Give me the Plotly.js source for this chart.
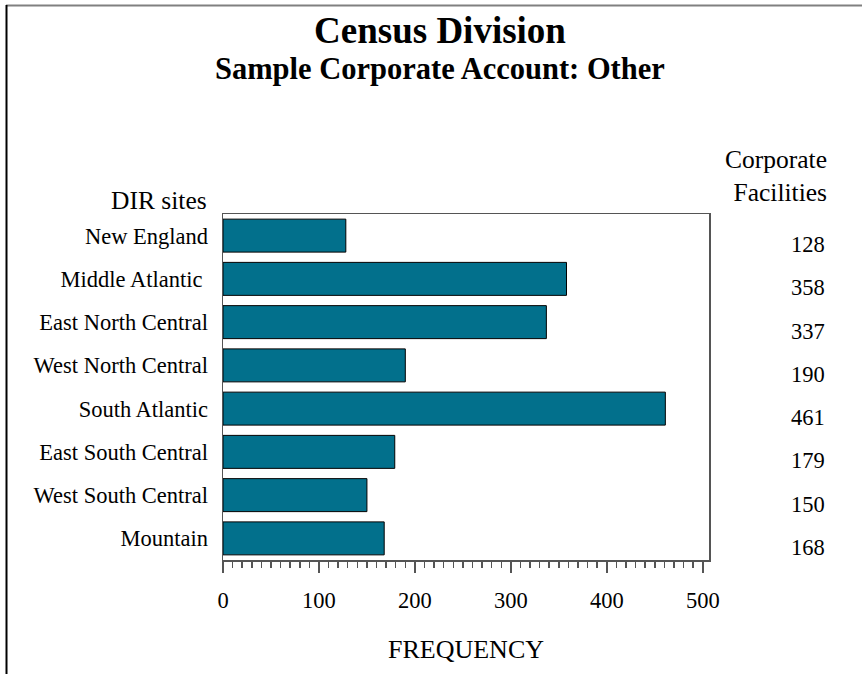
<!DOCTYPE html>
<html>
<head>
<meta charset="utf-8">
<script src="https://cdn.plot.ly/plotly-3.0.1.min.js"></script>
<style>
html,body{margin:0;padding:0;background:#fff;}
#chart{width:862px;height:674px;}
</style>
</head>
<body>
<div id="chart"></div>
<script>
const divisions = ["New England", "Middle Atlantic ", "East North Central", "West North Central", "South Atlantic", "East South Central", "West South Central", "Mountain"];
const facilities = [128, 358, 337, 190, 461, 179, 150, 168];
const xTickVals = [0, 100, 200, 300, 400, 500];

const FONT = "Liberation Serif, Times New Roman, serif";
const W = 862, H = 674;
const L = 223, R = 709, T = 214, B = 560;
const px2x = p => (p - L) / (R - L);
const py2y = p => (B - p) / (B - T);

const trace = {
  type: "bar",
  orientation: "h",
  y: divisions,
  x: facilities,
  marker: {color: "#02708C", line: {color: "#000", width: 1}},
  hoverinfo: "x+y"
};

const annotations = facilities.map((v, i) => ({
  xref: "paper", yref: "y",
  x: px2x(827), y: divisions[i],
  xanchor: "right", yanchor: "middle",
  yshift: -9,
  text: String(v), showarrow: false,
  font: {family: FONT, size: 22.5, color: "#000"}
}));
annotations.push({
  xref: "paper", yref: "paper",
  x: px2x(209), y: py2y(200),
  xanchor: "right", yanchor: "middle",
  text: "DIR sites", showarrow: false,
  font: {family: FONT, size: 25.5, color: "#000"}
});
annotations.push({
  xref: "paper", yref: "paper",
  x: px2x(829), y: py2y(176),
  xanchor: "right", yanchor: "middle", align: "right",
  text: "Corporate<br>Facilities", showarrow: false,
  font: {family: FONT, size: 25.5, color: "#000"}
});
annotations.push({
  xref: "paper", yref: "paper",
  x: px2x(440), y: py2y(69),
  xanchor: "center", yanchor: "middle",
  text: "<b>Sample Corporate Account: Other</b>", showarrow: false,
  font: {family: FONT, size: 30.5, color: "#000"}
});

const layout = {
  width: W, height: H,
  margin: {l: L, r: W - R, t: T, b: H - B, pad: 0},
  paper_bgcolor: "#fff", plot_bgcolor: "#fff",
  showlegend: false,
  bargap: 0.237,
  title: {
    text: "<b>Census Division</b>",
    font: {family: FONT, size: 37, color: "#000"},
    x: 440 / W, xanchor: "center",
    y: 1 - 30 / H, yanchor: "middle"
  },
  xaxis: {
    range: [0, 506.5],
    tickvals: xTickVals,
    ticks: "outside", ticklen: 11, tickwidth: 1.5, tickcolor: "#555",
    minor: {dtick: 10, tick0: 0, ticks: "outside", ticklen: 6, tickwidth: 1.5, tickcolor: "#555", showgrid: false},
    showgrid: false, zeroline: false,
    showline: true, linecolor: "#555", linewidth: 1.5, mirror: true,
    tickfont: {family: FONT, size: 22.5, color: "#000"},
    ticklabelstandoff: 8,
    title: {text: "FREQUENCY", font: {family: FONT, size: 26, color: "#000"}, standoff: 28},
    automargin: false, fixedrange: true
  },
  yaxis: {
    type: "category",
    range: [7.5, -0.5],
    ticks: "", showgrid: false, zeroline: false,
    showline: true, linecolor: "#555", linewidth: 1.5, mirror: true,
    tickfont: {family: FONT, size: 22.5, color: "#000"},
    ticklabelstandoff: 9,
    automargin: false, fixedrange: true
  },
  annotations: annotations,
  shapes: [
    {type: "line", xref: "paper", yref: "paper", x0: px2x(6), x1: px2x(862), y0: py2y(5.5), y1: py2y(5.5), line: {color: "#808080", width: 2}},
    {type: "line", xref: "paper", yref: "paper", x0: px2x(6.5), x1: px2x(6.5), y0: py2y(5), y1: py2y(674), line: {color: "#000", width: 2}}
  ]
};

Plotly.newPlot("chart", [trace], layout, {displayModeBar: false, staticPlot: true});
</script>
</body>
</html>
